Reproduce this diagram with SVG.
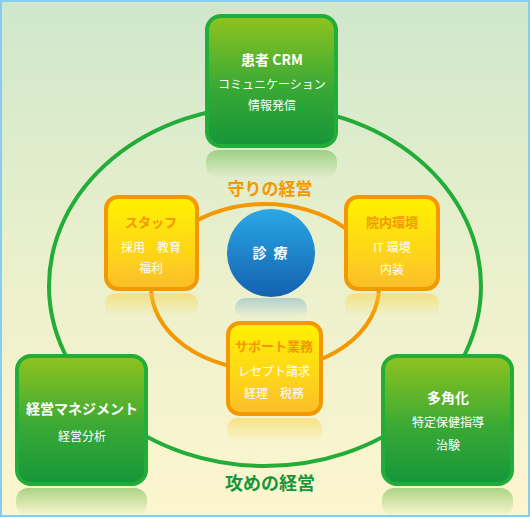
<svg xmlns="http://www.w3.org/2000/svg" width="530" height="517" viewBox="0 0 530 517">
<defs>
<linearGradient id="bg" x1="0" y1="0" x2="0" y2="1">
<stop offset="0" stop-color="#cfe7cc"/><stop offset="0.5" stop-color="#eaf0cc"/><stop offset="1" stop-color="#fdf6cf"/>
</linearGradient>
<linearGradient id="gfill" x1="0" y1="0" x2="0" y2="1">
<stop offset="0" stop-color="#8fc31f"/><stop offset="0.55" stop-color="#3aa935"/><stop offset="1" stop-color="#15963a"/>
</linearGradient>
<linearGradient id="yfill" x1="0" y1="0" x2="0" y2="1">
<stop offset="0" stop-color="#fff100"/><stop offset="0.6" stop-color="#fdd51a"/><stop offset="1" stop-color="#fbbd2a"/>
</linearGradient>
<linearGradient id="bfill" x1="0" y1="0" x2="0" y2="1">
<stop offset="0" stop-color="#2aa8e6"/><stop offset="1" stop-color="#1461b0"/>
</linearGradient>
<linearGradient id="grefl" x1="0" y1="0" x2="0" y2="1">
<stop offset="0" stop-color="#6ab84a" stop-opacity="0.55"/><stop offset="1" stop-color="#6ab84a" stop-opacity="0"/>
</linearGradient>
<linearGradient id="yrefl" x1="0" y1="0" x2="0" y2="1">
<stop offset="0" stop-color="#f8d23a" stop-opacity="0.5"/><stop offset="1" stop-color="#f8d23a" stop-opacity="0"/>
</linearGradient>
<linearGradient id="brefl" x1="0" y1="0" x2="0" y2="1">
<stop offset="0" stop-color="#5b9fd0" stop-opacity="0.4"/><stop offset="1" stop-color="#5b9fd0" stop-opacity="0"/>
</linearGradient>
</defs>
<style>
text{font-family:"Noto Sans CJK JP","Noto Sans",sans-serif;text-anchor:middle}
.gbox{fill:url(#gfill);stroke:#22ac38;stroke-width:4}
.ybox{fill:url(#yfill);stroke:#f39800;stroke-width:4}
.h{fill:#fff;font-weight:bold;font-size:14px}
.s{fill:#fff;font-size:12px}
.yh{fill:#f39800;font-weight:bold;font-size:13px}
.ring{fill:none;stroke-width:4}
</style>
<rect x="1" y="1" width="528" height="515" fill="url(#bg)" stroke="#86cdf0" stroke-width="2"/>
<g id="connectors">
<ellipse class="ring" cx="265" cy="286" rx="216" ry="180" stroke="#22ac38"/>
<ellipse class="ring" cx="265" cy="287" rx="114" ry="83" stroke="#f39800"/>
</g>
<text x="270" y="195" fill="#f39800" font-weight="bold" font-size="17">守りの経営</text>
<text x="270" y="490" fill="#16963a" font-weight="bold" font-size="18">攻めの経営</text>
<g id="crm">
<rect x="206" y="150" width="131" height="28" rx="12" fill="url(#grefl)"/>
<rect class="gbox" x="207" y="16" width="129" height="130" rx="14"/>
<text class="h" x="272" y="65">患者 CRM</text>
<text class="s" x="272" y="89">コミュニケーション</text>
<text class="s" x="272" y="110">情報発信</text>
</g>
<g id="staff">
<rect x="105" y="293" width="93" height="24" rx="10" fill="url(#yrefl)"/>
<rect class="ybox" x="106" y="197" width="91" height="92" rx="12"/>
<text class="yh" x="151" y="227">スタッフ</text>
<text class="s" x="151" y="252">採用　教育</text>
<text class="s" x="151" y="273">福利</text>
</g>
<g id="innai">
<rect x="345" y="293" width="94" height="24" rx="10" fill="url(#yrefl)"/>
<rect class="ybox" x="346" y="197" width="92" height="92" rx="12"/>
<text class="yh" x="392" y="227">院内環境</text>
<text class="s" x="392" y="252">IT 環境</text>
<text class="s" x="392" y="274">内装</text>
</g>
<g id="shinryo">
<rect x="235" y="298" width="72" height="20" rx="10" fill="url(#brefl)"/>
<circle cx="271" cy="253" r="44" fill="url(#bfill)"/>
<text x="271" y="258" fill="#fff" font-weight="bold" font-size="14" letter-spacing="2">診 療</text>
</g>
<g id="support">
<rect x="227" y="418" width="95" height="24" rx="10" fill="url(#yrefl)"/>
<rect class="ybox" x="228" y="323" width="93" height="91" rx="12"/>
<text class="yh" x="274" y="351">サポート業務</text>
<text class="s" x="274" y="376">レセプト請求</text>
<text class="s" x="274" y="398">経理　税務</text>
</g>
<g id="keiei">
<rect x="16" y="488" width="131" height="28" rx="12" fill="url(#grefl)"/>
<rect class="gbox" x="17" y="356" width="129" height="128" rx="14"/>
<text class="h" x="82" y="414">経営マネジメント</text>
<text class="s" x="82" y="441">経営分析</text>
</g>
<g id="takaku">
<rect x="382" y="488" width="131" height="28" rx="12" fill="url(#grefl)"/>
<rect class="gbox" x="383" y="356" width="129" height="128" rx="14"/>
<text class="h" x="448" y="403">多角化</text>
<text class="s" x="448" y="427">特定保健指導</text>
<text class="s" x="448" y="450">治験</text>
</g>
</svg>
